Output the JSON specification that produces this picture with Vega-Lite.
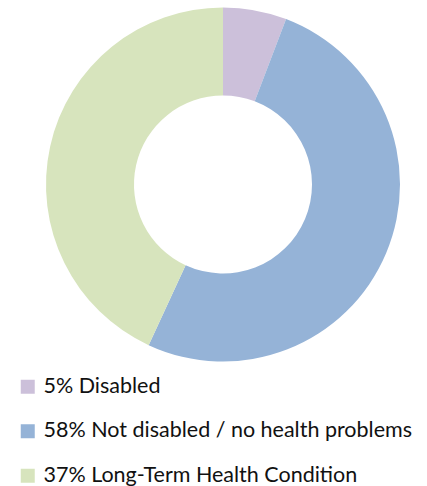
{
  "$schema": "https://vega.github.io/schema/vega-lite/v6.json",
  "width": 446,
  "height": 369,
  "padding": 0,
  "autosize": {"type": "pad"},
  "background": "white",
  "data": {
    "values": [
      {"order": 1, "label": "5% Disabled", "value": 5.8},
      {"order": 2, "label": "58% Not disabled / no health problems", "value": 51.1},
      {"order": 3, "label": "37% Long-Term Health Condition", "value": 43.1}
    ]
  },
  "mark": {"type": "arc", "outerRadius": 177, "innerRadius": 89},
  "encoding": {
    "theta": {"field": "value", "type": "quantitative", "stack": true},
    "order": {"field": "order", "type": "quantitative"},
    "color": {
      "field": "label",
      "type": "nominal",
      "scale": {
        "domain": ["5% Disabled", "58% Not disabled / no health problems", "37% Long-Term Health Condition"],
        "range": ["#CCC0DA", "#95B3D7", "#D7E4BD"]
      },
      "legend": {
        "title": null,
        "orient": "none",
        "legendX": 17,
        "legendY": 376,
        "direction": "vertical",
        "symbolType": "square",
        "symbolSize": 196,
        "symbolStrokeWidth": 0,
        "labelFont": "Lato",
        "labelFontSize": 21.5,
        "labelColor": "#111111",
        "labelOffset": 5,
        "labelLimit": 500,
        "rowPadding": 21.5,
        "padding": 0
      }
    }
  },
  "config": {"view": {"stroke": null}}
}
